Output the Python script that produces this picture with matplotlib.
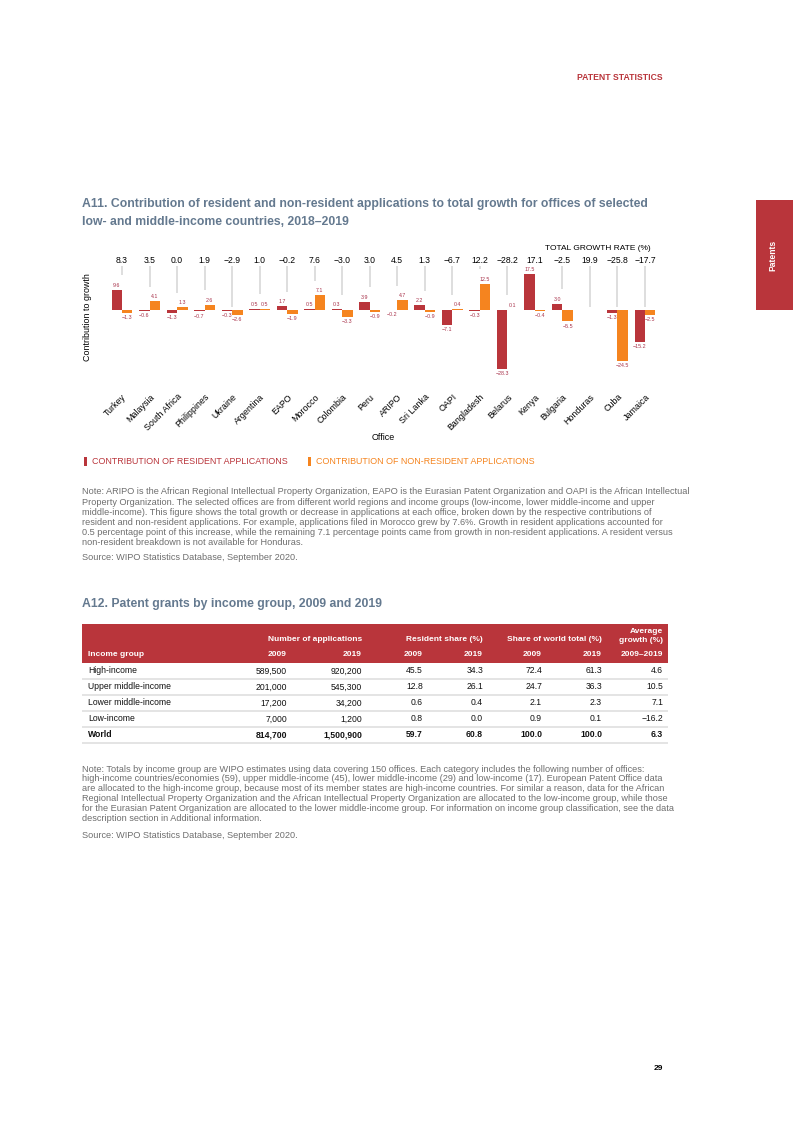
import numpy as np
import matplotlib.pyplot as plt
from matplotlib.patches import Rectangle

plt.rcParams['font.family'] = ['Liberation Sans', 'DejaVu Sans']

W, H = 793, 1122

# page colours
RED = '#b9353b'
ORANGE = '#f5841f'
LABEL_RED = '#a8324a'
TITLE_BLUE = '#64798f'
NOTE_GREY = '#6e6e6e'

# A11 chart data
offices = ['Turkey', 'Malaysia', 'South Africa', 'Philippines', 'Ukraine',
           'Argentina', 'EAPO', 'Morocco', 'Colombia', 'Peru', 'ARIPO',
           'Sri Lanka', 'OAPI', 'Bangladesh', 'Belarus', 'Kenya', 'Bulgaria',
           'Honduras', 'Cuba', 'Jamaica']
total_growth = [8.3, 3.5, 0.0, 1.9, -2.9, 1.0, -0.2, 7.6, -3.0, 3.0, 4.5,
                1.3, -6.7, 12.2, -28.2, 17.1, -2.5, 19.9, -25.8, -17.7]
resident = [9.6, -0.6, -1.3, -0.7, -0.3, 0.5, 1.7, 0.5, 0.3, 3.9, -0.2,
            2.2, -7.1, -0.3, -28.3, 17.5, 3.0, np.nan, -1.3, -15.2]
non_resident = [-1.3, 4.1, 1.3, 2.6, -2.6, 0.5, -1.9, 7.1, -3.3, -0.9, 4.7,
                -0.9, 0.4, 12.5, 0.1, -0.4, -5.5, np.nan, -24.5, -2.5]

# A12 table data
income_groups = ['High-income', 'Upper middle-income', 'Lower middle-income',
                 'Low-income', 'World']
apps_2009 = ['589,500', '201,000', '17,200', '7,000', '814,700']
apps_2019 = ['920,200', '545,300', '34,200', '1,200', '1,500,900']
res_share_2009 = [45.5, 12.8, 0.6, 0.8, 59.7]
res_share_2019 = [34.3, 26.1, 0.4, 0.0, 60.8]
world_share_2009 = [72.4, 24.7, 2.1, 0.9, 100.0]
world_share_2019 = [61.3, 36.3, 2.3, 0.1, 100.0]
avg_growth = [4.6, 10.5, 7.1, -16.2, 6.3]

note_a11 = [
    "Note: ARIPO is the African Regional Intellectual Property Organization, EAPO is the Eurasian Patent Organization and OAPI is the African Intellectual",
    "Property Organization. The selected offices are from different world regions and income groups (low-income, lower middle-income and upper",
    "middle-income). This figure shows the total growth or decrease in applications at each office, broken down by the respective contributions of",
    "resident and non-resident applications. For example, applications filed in Morocco grew by 7.6%. Growth in resident applications accounted for",
    "0.5 percentage point of this increase, while the remaining 7.1 percentage points came from growth in non-resident applications. A resident versus",
    "non-resident breakdown is not available for Honduras.",
]
note_a12 = [
    "Note: Totals by income group are WIPO estimates using data covering 150 offices. Each category includes the following number of offices:",
    "high-income countries/economies (59), upper middle-income (45), lower middle-income (29) and low-income (17). European Patent Office data",
    "are allocated to the high-income group, because most of its member states are high-income countries. For similar a reason, data for the African",
    "Regional Intellectual Property Organization and the African Intellectual Property Organization are allocated to the low-income group, while those",
    "for the Eurasian Patent Organization are allocated to the lower middle-income group. For information on income group classification, see the data",
    "description section in Additional information.",
]
source = "Source: WIPO Statistics Database, September 2020."


def fmt(v, nd=1):
    s = f"{v:.{nd}f}"
    return s.replace('-', '\u2212')


def ftext(x, y, s, **kw):
    # place text using page pixel coordinates
    return fig.text(x / W, 1 - y / H, s, **kw)


fig = plt.figure(figsize=(W / 100, H / 100), dpi=100)

# page furniture
ftext(663, 77, 'PATENT STATISTICS', ha='right', va='center', fontsize=6.2,
      fontweight='bold', color=RED)
fig.add_artist(Rectangle((756 / W, 1 - 310 / H), 37 / W, 110 / H,
                         transform=fig.transFigure, color=RED, lw=0))
ftext(773, 255, 'Patents', ha='center', va='center', rotation=90,
      fontsize=6.2, fontweight='bold', color='white')
ftext(663, 1068, '29', ha='right', va='center', fontsize=6,
      fontweight='bold', color='black')

# ---- A11 chart ----
ftext(82, 204, 'A11. Contribution of resident and non-resident applications to total growth for offices of selected',
      ha='left', va='center', fontsize=8.8, fontweight='bold', color=TITLE_BLUE)
ftext(82, 222, 'low- and middle-income countries, 2018\u20132019',
      ha='left', va='center', fontsize=8.8, fontweight='bold', color=TITLE_BLUE)

base_y, unit = 310, 2.08
ax_top, ax_bot = 252, 384
ax = fig.add_axes([108.25 / W, 1 - ax_bot / H, 550.5 / W, (ax_bot - ax_top) / H])
ax.set_xlim(-0.5, len(offices) - 0.5)
ax.set_ylim(-(ax_bot - base_y) / unit, (base_y - ax_top) / unit)

x = np.arange(len(offices))
bw = 0.38
res = np.array(resident)
nres = np.array(non_resident)
ax.bar(x - bw / 2, res, bw, color=RED, lw=0)
ax.bar(x + bw / 2, nres, bw, color=ORANGE, lw=0)

for xi, vals in ((x - bw / 2, res), (x + bw / 2, nres)):
    for xx, v in zip(xi, vals):
        if np.isnan(v):
            continue
        if v >= 0:
            ax.annotate(fmt(v), (xx, v), xytext=(0, 1.5), textcoords='offset points',
                        ha='center', va='bottom', fontsize=3.8, color=LABEL_RED)
        else:
            ax.annotate(fmt(v), (xx, v), xytext=(0, -1.5), textcoords='offset points',
                        ha='center', va='top', fontsize=3.8, color=LABEL_RED)

# totals and leader lines
line_top = 21.2
for i, t in enumerate(total_growth):
    ax.text(i, 24.0, fmt(t), ha='center', va='center', fontsize=6.2, color='black')
    top_val = np.nanmax([res[i], nres[i], 0]) if not np.isnan(res[i]) else 0
    end = top_val + 7 if top_val > 0 else 1.6
    if end < line_top:
        ax.vlines(i, end, line_top, color='#d4d4d4', lw=1.1)

ax.set_xticks(x)
ax.set_xticklabels(offices, rotation=45, ha='right', rotation_mode='anchor',
                   fontsize=6.4)
ax.tick_params(axis='x', length=0, pad=6)
ax.set_yticks([])
for s in ax.spines.values():
    s.set_visible(False)
ax.patch.set_alpha(0)

ftext(651, 249, 'TOTAL GROWTH RATE (%)', ha='right', va='center', fontsize=6.0)
ftext(88, 317, 'Contribution to growth', ha='center', va='center',
      rotation=90, fontsize=6.4)
ftext(383, 438, 'Office', ha='center', va='center', fontsize=6.4)

# legend
fig.add_artist(Rectangle((84 / W, 1 - 466 / H), 3 / W, 9 / H,
                         transform=fig.transFigure, color=RED, lw=0))
ftext(92, 461, 'CONTRIBUTION OF RESIDENT APPLICATIONS', ha='left', va='center',
      fontsize=6.4, color=RED)
fig.add_artist(Rectangle((308 / W, 1 - 466 / H), 3 / W, 9 / H,
                         transform=fig.transFigure, color=ORANGE, lw=0))
ftext(316, 461, 'CONTRIBUTION OF NON-RESIDENT APPLICATIONS', ha='left', va='center',
      fontsize=6.4, color=ORANGE)

for k, line in enumerate(note_a11):
    ftext(82, 492 + 10.1 * k, line, ha='left', va='center', fontsize=6.55, color=NOTE_GREY)
ftext(82, 557, source, ha='left', va='center', fontsize=6.55, color=NOTE_GREY)

# ---- A12 table ----
ftext(82, 604, 'A12. Patent grants by income group, 2009 and 2019',
      ha='left', va='center', fontsize=8.8, fontweight='bold', color=TITLE_BLUE)

tl, tr, tt, tb = 82, 668, 624, 745
axt = fig.add_axes([tl / W, 1 - tb / H, (tr - tl) / W, (tb - tt) / H])
axt.set_xlim(tl, tr)
axt.set_ylim(tb, tt)
axt.axis('off')
axt.add_patch(Rectangle((tl, tt), tr - tl, 39, color=RED, lw=0))

col_right = [287, 362, 423, 483, 542, 602, 663]
hdr = dict(color='white', fontsize=6.0, fontweight='bold', va='center')
axt.text(362, 640, 'Number of applications', ha='right', **hdr)
axt.text(483, 640, 'Resident share (%)', ha='right', **hdr)
axt.text(602, 640, 'Share of world total (%)', ha='right', **hdr)
axt.text(663, 632, 'Average', ha='right', **hdr)
axt.text(663, 641, 'growth (%)', ha='right', **hdr)
axt.text(88, 655, 'Income group', ha='left', **hdr)
for cx, lab in zip(col_right, ['2009', '2019', '2009', '2019', '2009', '2019', '2009\u20132019']):
    axt.text(cx, 655, lab, ha='right', **hdr)

columns = [apps_2009, apps_2019,
           [fmt(v) for v in res_share_2009], [fmt(v) for v in res_share_2019],
           [fmt(v) for v in world_share_2009], [fmt(v) for v in world_share_2019],
           [fmt(v) for v in avg_growth]]
for r, grp in enumerate(income_groups):
    yy = 671 + 16 * r
    wt = 'bold' if grp == 'World' else 'normal'
    axt.text(88, yy, grp, ha='left', va='center', fontsize=6.2, fontweight=wt, color='#111111')
    for cx, col in zip(col_right, columns):
        axt.text(cx, yy, col[r], ha='right', va='center', fontsize=6.2,
                 fontweight=wt, color='#111111')
    axt.hlines(679 + 16 * r, tl, tr, color='#dcdcdc', lw=1.1)

for k, line in enumerate(note_a12):
    ftext(82, 769 + 9.9 * k, line, ha='left', va='center', fontsize=6.55, color=NOTE_GREY)
ftext(82, 836, source, ha='left', va='center', fontsize=6.55, color=NOTE_GREY)

fig.savefig('out.png', dpi=100)
